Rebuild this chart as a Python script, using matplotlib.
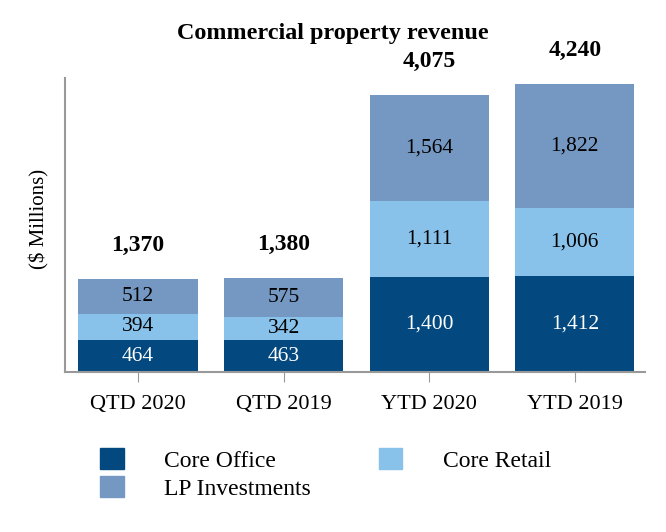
import matplotlib.pyplot as plt
import matplotlib.patches as mpatches
import numpy as np

plt.rcParams['font.family'] = ['Liberation Serif', 'DejaVu Serif']

categories = ['QTD 2020', 'QTD 2019', 'YTD 2020', 'YTD 2019']
core_office = [464, 463, 1400, 1412]
core_retail = [394, 342, 1111, 1006]
lp_investments = [512, 575, 1564, 1822]
totals = [1370, 1380, 4075, 4240]

series_names = ['Core Office', 'Core Retail', 'LP Investments']
colors = ['#03497F', '#88C1E9', '#7598C3']
text_colors = ['white', 'black', 'black']

fig = plt.figure(figsize=(6.66, 5.32), dpi=100)
ax = fig.add_axes([0.098, 0.301, 0.87, 0.553])

x = np.arange(len(categories))
bottom = np.zeros(len(categories))
for vals, col, tcol in zip([core_office, core_retail, lp_investments], colors, text_colors):
    vals = np.array(vals)
    ax.bar(x, vals, 0.82, bottom=bottom, color=col, edgecolor='none')
    for xi, b, v in zip(x, bottom, vals):
        ax.text(xi, b + v / 2, f'{v:,}', ha='center', va='center',
                fontsize=15.5, color=tcol)
    bottom += vals

for xi, t in zip(x, totals):
    ax.annotate(f'{t:,}', xy=(xi, t), xytext=(0, 24), textcoords='offset points',
                ha='center', va='center', fontsize=17, fontweight='bold')

ax.set_xlim(-0.5, 3.48)
ax.set_ylim(0, 4330)
ax.set_xticks(x)
ax.set_xticklabels(categories, fontsize=16)
ax.set_yticks([])
ax.tick_params(axis='x', length=7, color='#999999', pad=10)
for s in ['top', 'right']:
    ax.spines[s].set_visible(False)
for s in ['left', 'bottom']:
    ax.spines[s].set_color('#999999')
    ax.spines[s].set_linewidth(1.5)
ax.set_ylabel('($ Millions)', fontsize=15, va='center')
ax.yaxis.set_label_coords(-0.045, 0.52)

fig.text(0.5, 0.937, 'Commercial property revenue', ha='center', va='center',
         fontsize=17.4, fontweight='bold')

handles = [mpatches.Patch(color=colors[0], label=series_names[0]),
           mpatches.Patch(color=colors[2], label=series_names[2]),
           mpatches.Patch(color=colors[1], label=series_names[1])]
fig.legend(handles=handles, ncol=2, loc='upper left', bbox_to_anchor=(0.15, 0.158),
           frameon=False, fontsize=17, handlelength=1.0, handleheight=1.0,
           handletextpad=1.7, columnspacing=2.9, labelspacing=0.2,
           borderaxespad=0, borderpad=0)

plt.savefig('out.png', dpi=100, facecolor='white')
